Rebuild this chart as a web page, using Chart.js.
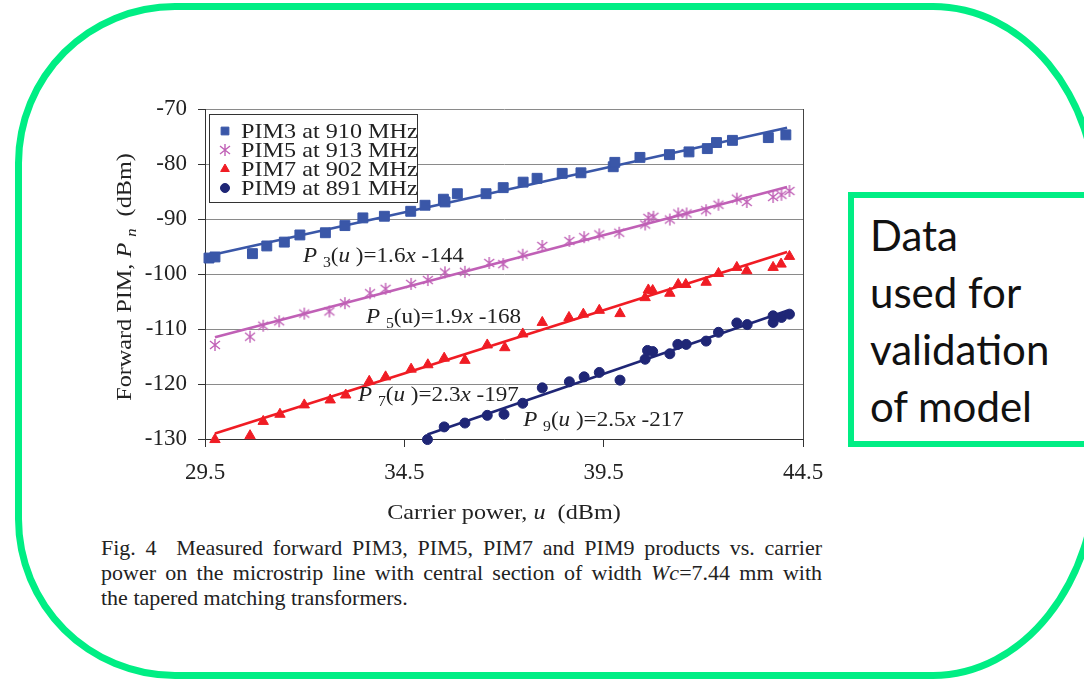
<!DOCTYPE html>
<html lang="en">
<head>
<meta charset="UTF-8">
<title>Forward PIM vs carrier power</title>
<style>
  html, body { margin: 0; padding: 0; background: #fff; }
  body { width: 1084px; height: 680px; position: relative; overflow: hidden; }
  #frame { position: absolute; left: 15px; top: 3px; width: 1085px; height: 676px;
           box-sizing: border-box; border: 7px solid #00ee84;
           border-radius: 160px 167px 167px 160px / 160px 200px 210px 160px; }
  #note { position: absolute; left: 848px; top: 192px; width: 260px; height: 255px;
          box-sizing: border-box; border: 6px solid #00ee84; }
  #noteText { position: absolute; left: 870px; top: 207px; font-family: Lato, "Open Sans", sans-serif;
              font-size: 42px; line-height: 57px; color: #111; }
  .cap { position: absolute; left: 101px; width: 721px; font-family: "Liberation Serif", "Times New Roman", serif;
         font-size: 22px; line-height: 25px; color: #222; white-space: nowrap; }
  .just { text-align: justify; text-align-last: justify; }
  #chart { position: absolute; left: 0; top: 0; }
</style>
</head>
<body>
<div id="frame"></div>
<div id="note"></div>
<div id="noteText">Data<br>used for<br>validation<br>of model</div>
<div class="cap just" style="top:535px">Fig. 4&nbsp; Measured forward PIM3, PIM5, PIM7 and PIM9 products vs. carrier</div>
<div class="cap just" style="top:560px">power on the microstrip line with central section of width <i>Wc</i>=7.44 mm with</div>
<div class="cap" style="top:585px">the tapered matching transformers.</div>
<canvas id="chart" width="1084" height="680"></canvas>
<script src="https://cdn.jsdelivr.net/npm/chart.js@4.4.1/dist/chart.umd.min.js"></script>
<script>
// axis ticks
const xTicks = [29.5, 34.5, 39.5, 44.5];
const yTicks = [-130, -120, -110, -100, -90, -80, -70];

const names = ['PIM3 at 910 MHz', 'PIM5 at 913 MHz', 'PIM7 at 902 MHz', 'PIM9 at 891 MHz'];

// measured points
const pim3X = [29.6, 29.75, 30.69, 31.05, 31.49, 31.88, 32.52, 33.01, 33.46, 34.0, 34.66, 35.02, 35.48, 35.52, 35.83, 36.55, 36.98, 37.48, 37.83, 38.46, 38.93, 39.74, 39.78, 40.41, 41.15, 41.64, 42.1, 42.33, 42.73, 43.63, 44.07];
const pim3Y = [-97.1, -96.9, -96.3, -94.9, -94.2, -92.9, -92.5, -91.2, -89.8, -89.5, -88.6, -87.5, -86.4, -86.9, -85.4, -85.4, -84.3, -83.3, -82.6, -81.7, -81.6, -80.5, -79.7, -78.8, -78.3, -77.8, -77.2, -76.1, -75.7, -75.2, -74.7];

const pim5X = [29.75, 30.63, 30.96, 31.36, 31.99, 32.62, 33.01, 33.64, 34.03, 34.67, 35.09, 35.52, 36.02, 36.63, 36.98, 37.47, 37.96, 38.64, 39.01, 39.39, 39.89, 40.54, 40.62, 40.75, 41.16, 41.37, 41.58, 42.07, 42.38, 42.84, 43.09, 43.75, 43.96, 44.16];
const pim5Y = [-112.9, -111.4, -109.4, -108.6, -107.2, -106.8, -105.3, -103.5, -102.7, -101.8, -101.1, -99.7, -99.6, -98.0, -98.2, -96.5, -94.9, -94.0, -93.3, -92.8, -92.5, -91.0, -89.8, -89.6, -90.1, -89.0, -89.0, -88.4, -87.4, -86.3, -86.9, -86.0, -85.6, -84.9];

const pim7X = [29.75, 30.63, 30.96, 31.38, 31.99, 32.64, 33.03, 33.62, 34.03, 34.67, 35.09, 35.5, 36.02, 36.58, 37.02, 37.47, 37.96, 38.63, 38.99, 39.39, 39.91, 40.54, 40.62, 40.73, 41.16, 41.37, 41.56, 42.07, 42.38, 42.84, 43.09, 43.75, 43.95, 44.16];
const pim7Y = [-130.1, -129.4, -126.8, -125.5, -123.8, -122.9, -122.0, -119.5, -118.7, -117.3, -116.5, -115.3, -115.7, -112.9, -113.4, -110.9, -108.8, -107.9, -107.3, -106.6, -107.2, -104.3, -102.9, -103.0, -103.5, -101.9, -101.9, -101.5, -99.9, -98.8, -99.4, -98.8, -98.2, -96.8];

const pim9X = [35.08, 35.5, 36.02, 36.58, 37.0, 37.47, 37.96, 38.64, 39.01, 39.39, 39.91, 40.54, 40.6, 40.73, 41.16, 41.36, 41.57, 42.07, 42.38, 42.84, 43.1, 43.75, 43.75, 43.96, 44.16];
const pim9Y = [-130.1, -127.8, -127.1, -125.7, -125.5, -123.5, -120.7, -119.6, -118.7, -117.9, -119.3, -115.5, -113.9, -114.1, -114.5, -112.8, -112.8, -112.2, -110.6, -108.9, -109.2, -108.8, -107.6, -107.9, -107.3];

// fitted lines, end points
const fit3X = [29.75, 44.1], fit3Y = [-96.4, -73.4];
const fit5X = [29.75, 44.1], fit5Y = [-111.5, -84.2];
const fit7X = [29.75, 44.1], fit7Y = [-129.0, -96.0];
const fit9X = [35.08, 44.1], fit9Y = [-129.2, -106.7];

const colors = ['#3a57a8', '#c060b6', '#f01c24', '#1f2676'];
const FONT = "'Liberation Serif', 'Times New Roman', serif";
const SX = 1.1; // the figure text is a bit wide

function pts(xs, ys) { return xs.map((x, i) => ({ x: x, y: ys[i] })); }

function starMarker(color) {
  const c = document.createElement('canvas');
  c.width = 14; c.height = 14;
  const g = c.getContext('2d');
  g.strokeStyle = color; g.lineWidth = 1.4;
  g.beginPath();
  g.moveTo(2, 3); g.lineTo(12, 11);
  g.moveTo(12, 3); g.lineTo(2, 11);
  g.moveTo(7, 1); g.lineTo(7, 13);
  g.stroke();
  return c;
}
const star = starMarker(colors[1]);

function pointSet(i, xs, ys, style, r) {
  return { label: names[i], data: pts(xs, ys), showLine: false, pointStyle: style, pointRadius: r,
           pointHoverRadius: r, backgroundColor: colors[i], borderColor: colors[i], borderWidth: 1, clip: false };
}
function fitSet(i, xs, ys) {
  return { label: 'fit', data: pts(xs, ys), showLine: true, pointRadius: 0, borderColor: colors[i],
           borderWidth: 2.6, fill: false };
}

// equation labels: [runs, u, P]
const eqs = [
  [[['P', 'i'], [' ', 'n'], ['3', 's'], ['(', 'n'], ['u', 'i'], [' )=1.6', 'n'], ['x', 'i'], [' -144', 'n']], 31.96, -97.9],
  [[['P', 'i'], [' ', 'n'], ['5', 's'], ['(u)=1.9', 'n'], ['x', 'i'], [' -168', 'n']], 33.54, -108.9],
  [[['P', 'i'], [' ', 'n'], ['7', 's'], ['(', 'n'], ['u', 'i'], [' )=2.3', 'n'], ['x', 'i'], [' -197', 'n']], 33.34, -123.1],
  [[['P', 'i'], [' ', 'n'], ['9', 's'], ['(', 'n'], ['u', 'i'], [' )=2.5', 'n'], ['x', 'i'], [' -217', 'n']], 37.48, -127.7]
];

function fontFor(s) {
  if (s === 'i') return 'italic 22px ' + FONT;
  if (s === 's') return '15px ' + FONT;
  if (s === 'si') return 'italic 15px ' + FONT;
  return '22px ' + FONT;
}
function runsWidth(ctx, runs) {
  let w = 0;
  runs.forEach(r => { ctx.font = fontFor(r[1]); w += ctx.measureText(r[0]).width; });
  return w;
}
function drawRuns(ctx, runs, center) {
  let cx = center ? -runsWidth(ctx, runs) / 2 : 0;
  runs.forEach(r => {
    ctx.font = fontFor(r[1]);
    ctx.fillText(r[0], cx, r[1][0] === 's' ? 5 : 0);
    cx += ctx.measureText(r[0]).width;
  });
}

const extras = {
  id: 'extras',
  afterDraw(chart) {
    const ctx = chart.ctx, ca = chart.chartArea;
    const xs = chart.scales.x, ys = chart.scales.y;
    ctx.save();
    // right border of plot
    ctx.strokeStyle = '#444'; ctx.lineWidth = 1;
    ctx.beginPath(); ctx.moveTo(ca.right + 0.5, ca.top); ctx.lineTo(ca.right + 0.5, ca.bottom); ctx.stroke();

    ctx.fillStyle = '#222'; ctx.textBaseline = 'alphabetic';
    // equations
    eqs.forEach(e => {
      ctx.save();
      ctx.translate(xs.getPixelForValue(e[1]), ys.getPixelForValue(e[2]));
      ctx.scale(1.05, 1);
      drawRuns(ctx, e[0], false);
      ctx.restore();
    });

    // axis titles
    ctx.save();
    ctx.translate((ca.left + ca.right) / 2, 519);
    ctx.scale(SX, 1);
    drawRuns(ctx, [['Carrier power, ', 'n'], ['u', 'i'], ['  (dBm)', 'n']], true);
    ctx.restore();

    ctx.save();
    ctx.translate(131, (ca.top + ca.bottom) / 2 + 3);
    ctx.rotate(-Math.PI / 2);
    ctx.scale(SX, 1);
    drawRuns(ctx, [['Forward PIM, ', 'n'], ['P', 'i'], [' ', 'n'], ['n', 'si'], ['  (dBm)', 'n']], true);
    ctx.restore();

    // legend
    const lx = ca.left + 4, ly = ca.top + 5;
    ctx.fillStyle = '#fff';
    ctx.fillRect(lx, ly, 209, 89);
    ctx.strokeStyle = '#333'; ctx.lineWidth = 1;
    ctx.strokeRect(lx + 0.5, ly + 0.5, 208, 88);
    chart.data.datasets.slice(0, 4).forEach((ds, i) => {
      const my = ly + 17 + i * 19;
      ctx.fillStyle = ds.backgroundColor; ctx.strokeStyle = ds.borderColor; ctx.lineWidth = 1;
      const r = ds.pointStyle === 'rect' ? 5.5 : ds.pointStyle === 'triangle' ? 5 : 4.5;
      Chart.helpers.drawPoint(ctx, { pointStyle: ds.pointStyle, radius: r, rotation: 0, borderWidth: 1 }, lx + 16, my);
      ctx.save();
      ctx.translate(lx + 32, my + 6.5);
      ctx.scale(SX, 1);
      ctx.fillStyle = '#222'; ctx.font = '22px ' + FONT;
      ctx.fillText(ds.label, 0, 0);
      ctx.restore();
    });
    ctx.restore();
  }
};

new Chart(document.getElementById('chart'), {
  type: 'scatter',
  data: {
    datasets: [
      pointSet(0, pim3X, pim3Y, 'rect', 7),
      pointSet(1, pim5X, pim5Y, star, 7),
      pointSet(2, pim7X, pim7Y, 'triangle', 6),
      pointSet(3, pim9X, pim9Y, 'circle', 5),
      fitSet(0, fit3X, fit3Y),
      fitSet(1, fit5X, fit5Y),
      fitSet(2, fit7X, fit7Y),
      fitSet(3, fit9X, fit9Y)
    ]
  },
  options: {
    responsive: false,
    animation: false,
    layout: { padding: { left: 0, top: 109, right: 281, bottom: 150 } },
    plugins: { legend: { display: false }, tooltip: { enabled: false } },
    scales: {
      x: {
        type: 'linear', min: 29.5, max: 44.5,
        afterBuildTicks: s => { s.ticks = xTicks.map(v => ({ value: v })); },
        afterFit: s => { s.height = 91; },
        ticks: { padding: 12, color: '#222', font: { family: FONT, size: 23 }, callback: v => String(v) },
        grid: { drawOnChartArea: false, tickLength: 8, tickColor: '#333' },
        border: { color: '#333', width: 1 }
      },
      y: {
        min: -130, max: -70,
        afterBuildTicks: s => { s.ticks = yTicks.map(v => ({ value: v })); },
        afterFit: s => { s.width = 205; },
        ticks: { padding: 11, color: '#222', font: { family: FONT, size: 23 }, callback: v => String(v) },
        grid: { color: '#8a8a8a', lineWidth: 1, tickLength: 7, tickColor: '#333' },
        border: { color: '#333', width: 1 }
      }
    }
  },
  plugins: [extras]
});
</script>
</body>
</html>
